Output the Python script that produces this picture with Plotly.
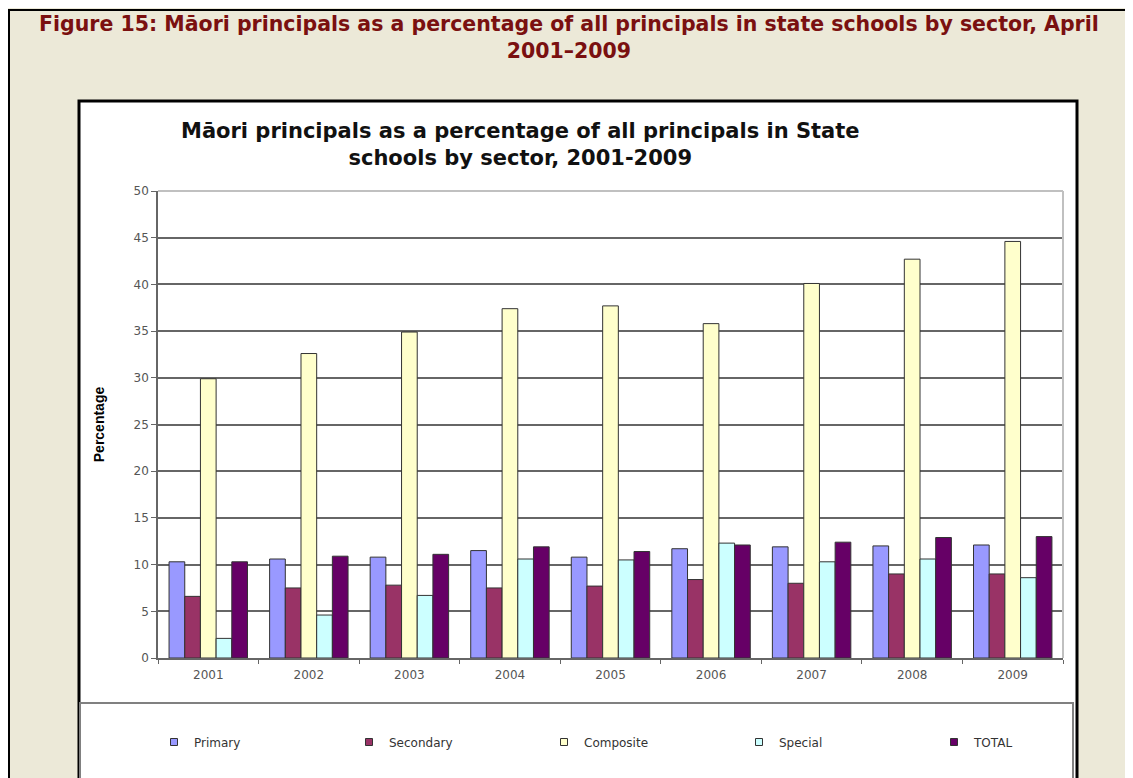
import plotly.graph_objects as go

years = ["2001", "2002", "2003", "2004", "2005", "2006", "2007", "2008", "2009"]
primary = [10.3, 10.6, 10.8, 11.5, 10.8, 11.7, 11.9, 12.0, 12.1]
secondary = [6.6, 7.5, 7.8, 7.5, 7.7, 8.4, 8.0, 9.0, 9.0]
composite = [29.9, 32.6, 34.9, 37.4, 37.7, 35.8, 40.1, 42.7, 44.6]
special = [2.1, 4.6, 6.7, 10.6, 10.5, 12.3, 10.3, 10.6, 8.6]
total = [10.3, 10.9, 11.1, 11.9, 11.4, 12.1, 12.4, 12.9, 13.0]
y_ticks = [0, 5, 10, 15, 20, 25, 30, 35, 40, 45, 50]

series = [
    ("Primary", primary, "#9999FF"),
    ("Secondary", secondary, "#993366"),
    ("Composite", composite, "#FFFFCC"),
    ("Special", special, "#CCFFFF"),
    ("TOTAL", total, "#660066"),
]

OFF = 8  # page body margin
W, H = 1133 - OFF, 778 - OFF
L, R, T, B = 158, 1063, 191, 658  # plot area in screen pixels


def px(x):
    return (x - L) / (R - L)


def py(y):
    return (B - y) / (B - T)


FONT = "Liberation Sans, Arial, sans-serif"
WFONT = "DejaVu Sans, Verdana, sans-serif"

fig = go.Figure()
for name, vals, col in series:
    fig.add_trace(go.Bar(
        x=years, y=vals, name=name, showlegend=False, legendgroup=name,
        marker=dict(color=col, line=dict(color="#333333", width=1)),
    ))
for name, vals, col in series:
    fig.add_trace(go.Scatter(
        x=[None], y=[None], mode="markers", name=name, legendgroup=name,
        marker=dict(symbol="square", size=7, color=col,
                    line=dict(color="#333333", width=1)),
    ))

shapes = [
    dict(type="rect", xref="paper", yref="paper", x0=px(9), x1=px(1130), y0=py(800), y1=py(10),
         line=dict(color="black", width=2), fillcolor="rgba(0,0,0,0)", layer="below"),
    dict(type="rect", xref="paper", yref="paper", x0=px(79), x1=px(1077), y0=py(800), y1=py(101),
         line=dict(color="black", width=3), fillcolor="white", layer="below"),
    dict(type="rect", xref="paper", yref="paper", x0=px(80), x1=px(1073), y0=py(790), y1=py(703),
         line=dict(color="#808080", width=2), fillcolor="rgba(0,0,0,0)", layer="below"),
    dict(type="line", xref="paper", yref="paper", x0=0, x1=1, y0=1, y1=1,
         line=dict(color="#C0C0C0", width=2), layer="above"),
    dict(type="line", xref="paper", yref="paper", x0=1, x1=1, y0=0, y1=1,
         line=dict(color="#C0C0C0", width=2), layer="above"),
]

annotations = [
    dict(text="<b>Figure 15: Māori principals as a percentage of all principals in state schools by sector, April<br>2001–2009</b>",
         xref="paper", yref="paper", x=px(569), y=py(38), xanchor="center", yanchor="middle",
         showarrow=False, font=dict(family=WFONT, size=20.5, color="#7A1010"), align="center"),
    dict(text="<b>Māori principals as a percentage of all principals in State<br>schools by sector, 2001-2009</b>",
         xref="paper", yref="paper", x=px(520), y=py(145), xanchor="center", yanchor="middle",
         showarrow=False, font=dict(family=WFONT, size=21, color="#111111"), align="center"),
]

fig.update_layout(
    width=W, height=H,
    margin=dict(l=L - OFF, r=W - (R - OFF), t=T - OFF, b=H - (B - OFF), pad=0),
    paper_bgcolor="#ECE9D8",
    plot_bgcolor="white",
    barmode="group", bargap=0.22, bargroupgap=0,
    font=dict(family=WFONT, size=12, color="#444444"),
    shapes=shapes, annotations=annotations,
    showlegend=True,
    legend=dict(orientation="h", x=px(154), y=py(742), xanchor="left", yanchor="middle",
                entrywidth=150, entrywidthmode="pixels", bgcolor="rgba(0,0,0,0)",
                font=dict(family=WFONT, size=12, color="#333333"), traceorder="normal"),
)
fig.update_xaxes(
    type="category", showline=True, linecolor="#666666", linewidth=1.5,
    ticks="outside", tickson="boundaries", ticklen=4, tickcolor="#666666",
    ticklabelstandoff=5,
    showgrid=False, tickfont=dict(family=WFONT, size=12, color="#555555"),
)
fig.update_yaxes(
    range=[0, 50], tickvals=y_ticks, showline=True, linecolor="#666666", linewidth=1.5,
    ticks="outside", ticklen=5, tickcolor="#666666",
    showgrid=True, gridcolor="#666666", gridwidth=1.6, zeroline=False,
    tickfont=dict(family=WFONT, size=12, color="#555555"),
    title=dict(text="<b>Percentage</b>", font=dict(family=FONT, size=14, color="black"), standoff=26),
)

fig.write_html("out.html")
